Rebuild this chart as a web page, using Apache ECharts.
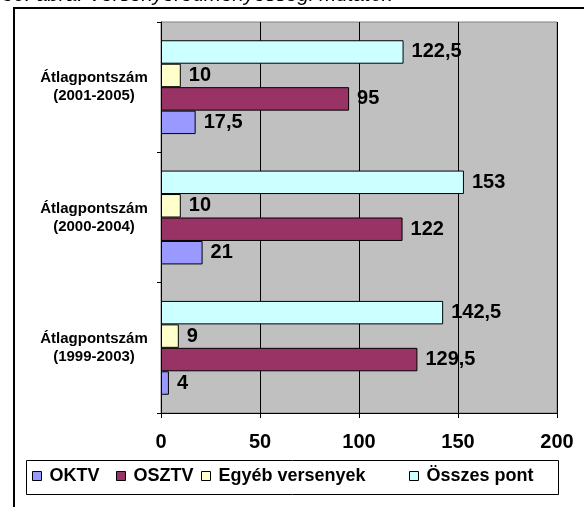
<!DOCTYPE html>
<html>
<head>
<meta charset="utf-8">
<script src="https://cdn.jsdelivr.net/npm/echarts@6/dist/echarts.min.js"></script>
<style>
  html, body { margin: 0; padding: 0; background: #ffffff; }
  #chart { width: 584px; height: 507px; }
</style>
</head>
<body>
<div id="chart"></div>
<script>
// Categories (bottom to top on the category axis)
const categories = [
  'Átlagpontszám\n(1999-2003)',
  'Átlagpontszám\n(2000-2004)',
  'Átlagpontszám\n(2001-2005)'
];
const seriesNames = ['OKTV', 'OSZTV', 'Egyéb versenyek', 'Összes pont'];
const oktv = [4, 21, 17.5];
const osztv = [129.5, 122, 95];
const egyeb = [9, 10, 10];
const osszes = [142.5, 153, 122.5];
const xTicks = [0, 50, 100, 150, 200];
const colors = ['#9999FF', '#993366', '#FFFFCC', '#CCFFFF'];

const values = [oktv, osztv, egyeb, osszes];
const fmt = v => String(v).replace('.', ',');
const font = 'Liberation Sans, Arial, sans-serif';

// Left edge of each legend entry inside the legend box
const legendLefts = [32, 116, 201, 409];

const chart = echarts.init(document.getElementById('chart'), null, { renderer: 'canvas' });

// Series drawn top-to-bottom within a group: Összes pont, Egyéb, OSZTV, OKTV
const order = [3, 2, 1, 0];

chart.setOption({
  animation: false,
  textStyle: { fontFamily: font },
  graphic: [
    {
      type: 'text', left: 2, top: -15, z: 10,
      style: {
        text: '30. ábra: Versenyeredményességi mutatók',
        font: 'italic 20.5px ' + font, fill: '#000'
      }
    },
    {
      type: 'rect', z: -1,
      shape: { x: 14, y: 8, width: 600, height: 520 },
      style: { fill: 'none', stroke: '#000', lineWidth: 2 }
    },
    {
      type: 'rect', z: 0,
      shape: { x: 26.5, y: 460.5, width: 532, height: 34 },
      style: { fill: '#fff', stroke: '#000', lineWidth: 1 }
    }
  ],
  grid: {
    left: 161, right: 27, top: 22, bottom: 94,
    show: true, backgroundColor: '#C0C0C0', borderColor: '#808080', borderWidth: 1
  },
  legend: seriesNames.map((name, i) => ({
    data: [name],
    left: legendLefts[i], top: 467, padding: 0,
    icon: 'rect', itemWidth: 9, itemHeight: 9,
    itemStyle: { borderColor: '#000', borderWidth: 1 },
    textStyle: {
      fontSize: 18, fontWeight: 'bold', color: '#000', fontFamily: font,
      padding: [0, 0, 0, 3]
    },
    z: 5
  })),
  xAxis: {
    type: 'value', min: xTicks[0], max: xTicks[xTicks.length - 1], interval: 50,
    axisLine: { show: true, lineStyle: { color: '#000', width: 1 } },
    axisTick: { show: true, length: 5, lineStyle: { color: '#000' } },
    splitLine: { show: true, lineStyle: { color: '#000', width: 1 } },
    axisLabel: { fontSize: 20, fontWeight: 'bold', color: '#000', margin: 19, fontFamily: font }
  },
  yAxis: {
    type: 'category', data: categories,
    axisLine: { show: true, lineStyle: { color: '#000', width: 1 } },
    axisTick: { show: true, length: 4, lineStyle: { color: '#000' } },
    axisLabel: {
      fontSize: 15, fontWeight: 'bold', color: '#000', align: 'center',
      margin: 67, lineHeight: 18, fontFamily: font
    }
  },
  series: order.map(i => ({
    name: seriesNames[i], type: 'bar', data: values[i],
    barGap: '0%', barCategoryGap: '28%',
    itemStyle: { color: colors[i], borderColor: '#000', borderWidth: 1 },
    label: {
      show: true, position: 'right', distance: 8,
      fontSize: 20, fontWeight: 'bold', color: '#000', fontFamily: font,
      formatter: p => fmt(p.value)
    }
  }))
});
</script>
</body>
</html>
